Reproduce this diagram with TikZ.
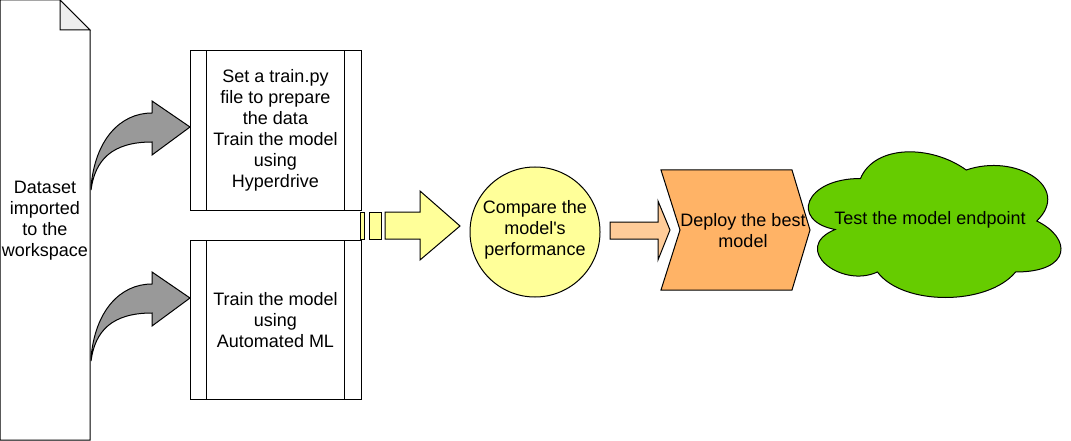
\documentclass[tikz,border=0pt]{standalone}
\usepackage{fontspec}
\setmainfont{Liberation Sans}
\usepackage{tikz}
\usetikzlibrary{positioning}

\definecolor{foldgrey}{HTML}{EEEEEE}
\definecolor{arrowgrey}{HTML}{999999}
\definecolor{paleyellow}{HTML}{FFFF99}
\definecolor{paleorange}{HTML}{FFCC99}
\definecolor{deeporange}{HTML}{FFB366}
\definecolor{cloudgreen}{HTML}{66CC00}

\tikzset{
	txt/.style={align=center, font=\fontsize{18}{21}\selectfont, inner sep=0pt},
	shape line/.style={draw=black, line width=1pt, line join=miter},
	procbox/.style={shape line, fill=white, minimum width=171pt, minimum height=159pt, inner sep=0pt}
}

\begin{document}
\begin{tikzpicture}[x=1pt, y=-1pt]
	\useasboundingbox (0,0) rectangle (1071,441);

	% Document
	\draw[shape line, fill=white] (0,0) -- (60,0) -- (90,30) -- (90,440) -- (0,440) -- cycle;
	\draw[shape line, fill=foldgrey] (60,0) -- (60,30) -- (90,30) -- cycle;
	\node[txt] (dataset) at (45,220.5) {Dataset\\imported\\to the\\workspace};

	% Process boxes
	\node[procbox] (hyper) at (275.5,130.5) {};
	\node[procbox] (automl) at (275.5,320) {};
	\foreach \n in {hyper,automl}{
		\draw[shape line] ([xshift=17pt]\n.north west) -- ([xshift=17pt]\n.south west);
		\draw[shape line] ([xshift=-17pt]\n.north east) -- ([xshift=-17pt]\n.south east);
	}
	\node[txt] at (hyper) {Set a train.py\\file to prepare\\the data\\Train the model\\using\\Hyperdrive};
	\node[txt] at (automl) {Train the model\\using\\Automated ML};

	% Curved arrows
	\foreach \dy in {0,171}{
		\draw[shape line, fill=arrowgrey] (91,187+\dy) .. controls (95,140+\dy) and (120,113+\dy) .. (152,113+\dy)
			-- (152,101+\dy) -- (190,127+\dy) -- (152,155+\dy) -- (152,142+\dy)
			.. controls (112,142+\dy) and (95,160+\dy) .. (91,190+\dy) -- cycle;
	}

	% Striped arrow
	\draw[shape line, fill=paleyellow] (360,212) rectangle (364,239);
	\draw[shape line, fill=paleyellow] (369,212) rectangle (381,239);
	\draw[shape line, fill=paleyellow] (385,212) -- (420,212) -- (420,191) -- (460,226)
		-- (420,260) -- (420,239) -- (385,239) -- cycle;

	% Compare
	\node[circle, shape line, fill=paleyellow, minimum size=130pt] (compare) at (535,232) {};
	\node[txt] at (535,230) {Compare the\\model\textquotesingle s\\performance};

	% Small arrow
	\draw[shape line, fill=paleorange] (610,222) -- (658,222) -- (658,201) -- (670,230)
		-- (658,260) -- (658,239) -- (610,239) -- cycle;

	% Deploy step
	\draw[shape line, fill=deeporange] (661,170) -- (792,170) -- (810,230) -- (792,290)
		-- (661,290) -- (680,230) -- cycle;
	\node[txt] (deploy) at (743,230.5) {Deploy the best\\model};

	% Cloud
	\begin{scope}[shift={(790,136)}, x=282pt, y=-170pt]
		\draw[shape line, fill=cloudgreen] (0.25,0.25)
			.. controls (0.05,0.25) and (0,0.5) .. (0.16,0.55)
			.. controls (0,0.66) and (0.18,0.9) .. (0.31,0.8)
			.. controls (0.4,1) and (0.7,1) .. (0.8,0.8)
			.. controls (1,0.8) and (1,0.6) .. (0.875,0.5)
			.. controls (1,0.3) and (0.8,0.1) .. (0.625,0.2)
			.. controls (0.5,0.05) and (0.3,0.05) .. (0.25,0.25) -- cycle;
	\end{scope}
	\node[txt] (endpoint) at (930,220) {Test the model endpoint};

\end{tikzpicture}
\end{document}
